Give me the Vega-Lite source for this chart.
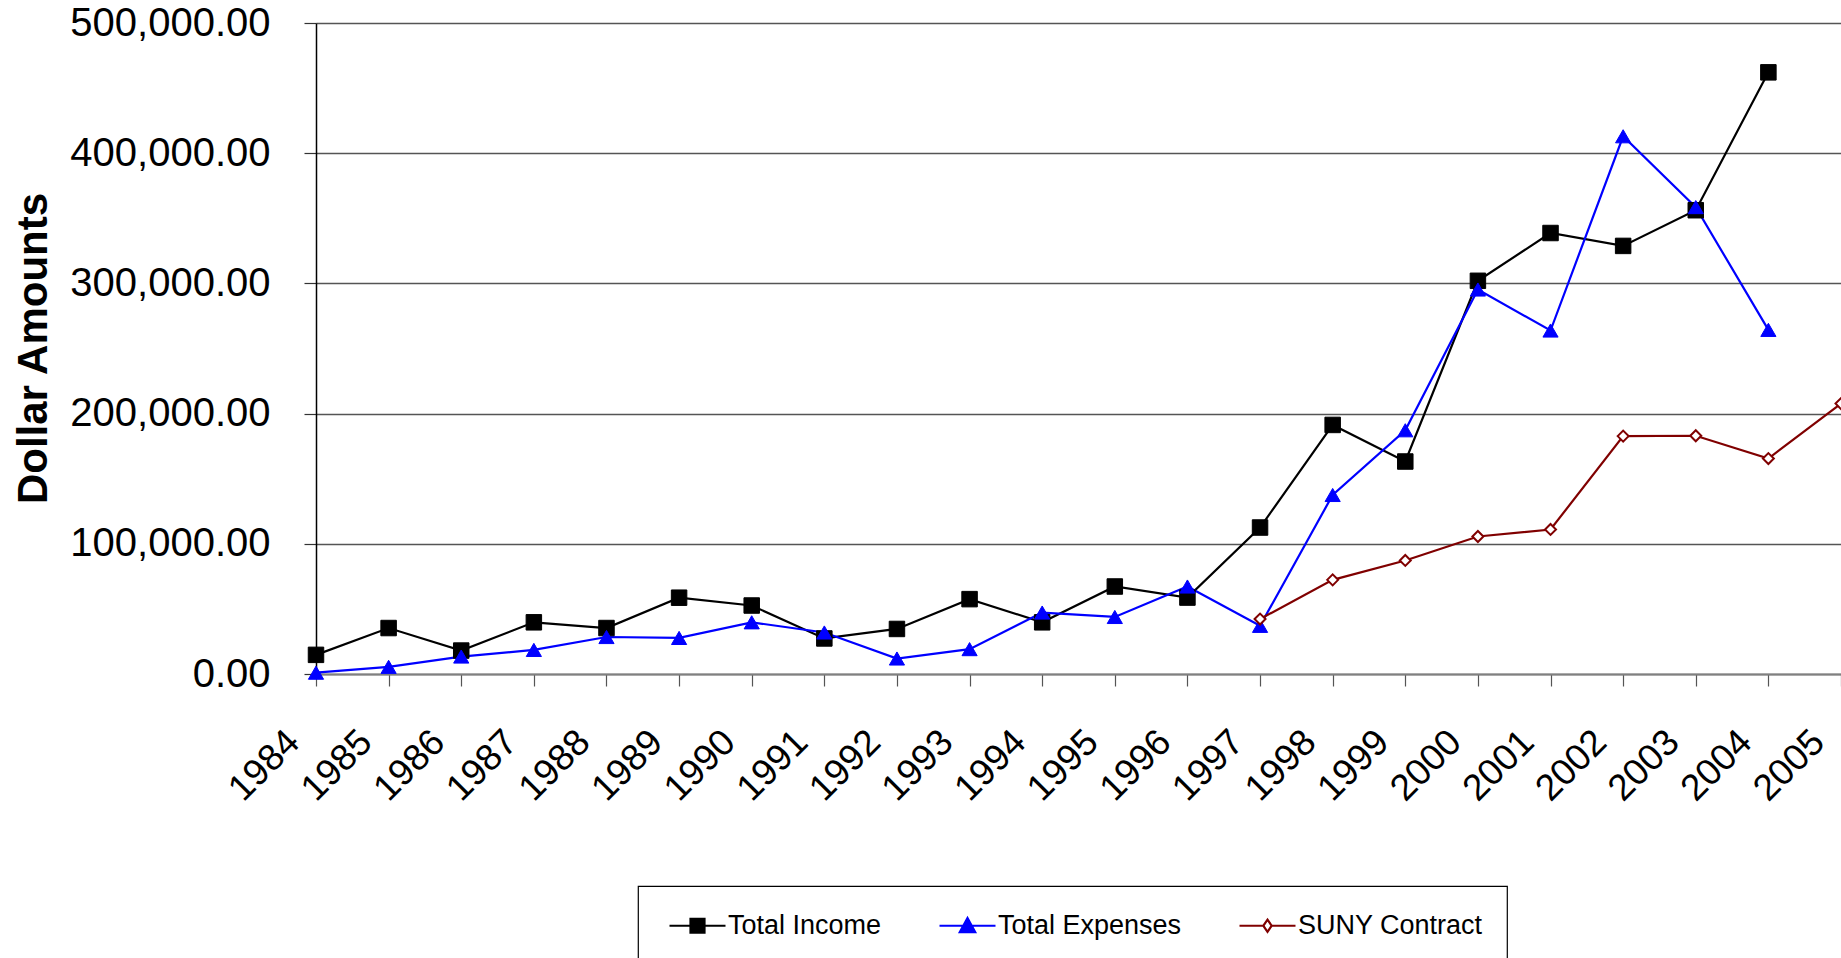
{
  "$schema": "https://vega.github.io/schema/vega-lite/v6.json",
  "autosize": {"type": "none"},
  "padding": {"left": 316, "top": 23, "right": 0, "bottom": 284},
  "width": 1525,
  "height": 651,
  "background": "white",
  "config": {
    "view": {"stroke": null},
    "font": "Liberation Sans"
  },
  "data": {
    "values": [
      {"year": 1984, "series": "Total Income", "value": 14700},
      {"year": 1985, "series": "Total Income", "value": 35300},
      {"year": 1986, "series": "Total Income", "value": 18000},
      {"year": 1987, "series": "Total Income", "value": 39700},
      {"year": 1988, "series": "Total Income", "value": 35300},
      {"year": 1989, "series": "Total Income", "value": 58600},
      {"year": 1990, "series": "Total Income", "value": 52600},
      {"year": 1991, "series": "Total Income", "value": 27300},
      {"year": 1992, "series": "Total Income", "value": 34600},
      {"year": 1993, "series": "Total Income", "value": 57500},
      {"year": 1994, "series": "Total Income", "value": 39700},
      {"year": 1995, "series": "Total Income", "value": 67200},
      {"year": 1996, "series": "Total Income", "value": 58700},
      {"year": 1997, "series": "Total Income", "value": 112500},
      {"year": 1998, "series": "Total Income", "value": 191300},
      {"year": 1999, "series": "Total Income", "value": 163200},
      {"year": 2000, "series": "Total Income", "value": 302000},
      {"year": 2001, "series": "Total Income", "value": 338700},
      {"year": 2002, "series": "Total Income", "value": 328800},
      {"year": 2003, "series": "Total Income", "value": 356200},
      {"year": 2004, "series": "Total Income", "value": 462100},
      {"year": 1984, "series": "Total Expenses", "value": 1000},
      {"year": 1985, "series": "Total Expenses", "value": 5500},
      {"year": 1986, "series": "Total Expenses", "value": 13400},
      {"year": 1987, "series": "Total Expenses", "value": 18500},
      {"year": 1988, "series": "Total Expenses", "value": 28400},
      {"year": 1989, "series": "Total Expenses", "value": 27700},
      {"year": 1990, "series": "Total Expenses", "value": 39700},
      {"year": 1991, "series": "Total Expenses", "value": 31900},
      {"year": 1992, "series": "Total Expenses", "value": 11900},
      {"year": 1993, "series": "Total Expenses", "value": 19100},
      {"year": 1994, "series": "Total Expenses", "value": 47200},
      {"year": 1995, "series": "Total Expenses", "value": 43800},
      {"year": 1996, "series": "Total Expenses", "value": 67200},
      {"year": 1997, "series": "Total Expenses", "value": 37000},
      {"year": 1998, "series": "Total Expenses", "value": 137500},
      {"year": 1999, "series": "Total Expenses", "value": 187200},
      {"year": 2000, "series": "Total Expenses", "value": 295300},
      {"year": 2001, "series": "Total Expenses", "value": 263800},
      {"year": 2002, "series": "Total Expenses", "value": 413000},
      {"year": 2003, "series": "Total Expenses", "value": 358600},
      {"year": 2004, "series": "Total Expenses", "value": 264300},
      {"year": 1997, "series": "SUNY Contract", "value": 42200},
      {"year": 1998, "series": "SUNY Contract", "value": 72300},
      {"year": 1999, "series": "SUNY Contract", "value": 87200},
      {"year": 2000, "series": "SUNY Contract", "value": 105600},
      {"year": 2001, "series": "SUNY Contract", "value": 111000},
      {"year": 2002, "series": "SUNY Contract", "value": 182700},
      {"year": 2003, "series": "SUNY Contract", "value": 183000},
      {"year": 2004, "series": "SUNY Contract", "value": 165500},
      {"year": 2005, "series": "SUNY Contract", "value": 207700}
    ]
  },
  "encoding": {
    "x": {
      "field": "year",
      "type": "quantitative",
      "scale": {"domain": [1984, 2005], "nice": false, "zero": false},
      "axis": {
        "title": null,
        "values": [1984,1985,1986,1987,1988,1989,1990,1991,1992,1993,1994,1995,1996,1997,1998,1999,2000,2001,2002,2003,2004,2005],
        "format": "d",
        "grid": false,
        "domainColor": "#808080",
        "domainWidth": 2,
        "tickColor": "#555555",
        "tickWidth": 1.2,
        "tickSize": 12,
        "labelAngle": -45,
        "labelAlign": "right",
        "labelBaseline": "alphabetic",
        "labelPadding": 58,
        "labelOffset": -15,
        "labelFontSize": 37,
        "labelColor": "black",
        "labelFont": "Liberation Sans",
        "labelLimit": 400,
        "labelOverlap": false,
        "labelFlush": false,
        "labelBound": false
      }
    },
    "y": {
      "field": "value",
      "type": "quantitative",
      "scale": {"domain": [0, 500000], "nice": false},
      "axis": {
        "title": "Dollar Amounts",
        "titleFont": "Liberation Sans",
        "titleFontSize": 42,
        "titleFontWeight": "bold",
        "titleColor": "black",
        "titleAngle": -90,
        "titleAlign": "center",
        "titleBaseline": "alphabetic",
        "titleX": -270,
        "titleY": 325,
        "titleLimit": 800,
        "values": [0, 100000, 200000, 300000, 400000, 500000],
        "format": ",.2f",
        "grid": true,
        "gridColor": "#555555",
        "gridWidth": 1.3,
        "domainColor": "black",
        "domainWidth": 1.5,
        "tickColor": "#333333",
        "tickSize": 12,
        "tickWidth": 1.2,
        "labelPadding": 34,
        "labelFontSize": 40,
        "labelColor": "black",
        "labelFont": "Liberation Sans",
        "labelLimit": 400
      }
    }
  },
  "layer": [
    {
      "mark": {"type": "line", "strokeWidth": 2.2},
      "encoding": {
        "color": {
          "field": "series",
          "type": "nominal",
          "scale": {
            "domain": ["Total Income", "Total Expenses", "SUNY Contract"],
            "range": ["#000000", "#0000ff", "#800000"]
          },
          "legend": {
            "title": null,
            "orient": "none",
            "direction": "horizontal",
            "legendX": 322,
            "legendY": 863,
            "padding": 24,
            "symbolOffset": 6,
            "strokeColor": "black",
            "fillColor": "white",
            "symbolSize": 784,
            "symbolStrokeWidth": 2.2,
            "labelOffset": 29,
            "columnPadding": 50,
            "labelFontSize": 27,
            "labelFont": "Liberation Sans",
            "labelColor": "black",
            "labelLimit": 500,
            "encode": {
              "legend": {
                "update": {
                  "strokeWidth": {"value": 1.2}
                }
              },
              "symbols": {
                "update": {
                  "shape": {"signal": "datum.value === 'Total Income' ? 'M-1,0H3M0.5,-0.5H1.5V0.5H0.5Z' : datum.value === 'Total Expenses' ? 'M-1,0H3M1,-0.55L1.55,0.45H0.45Z' : 'M-1,0H0.7M1.3,0H3M1,-0.43L1.3,0L1,0.43L0.7,0Z'"},
                  "fill": {"signal": "datum.value === 'Total Income' ? '#000000' : datum.value === 'Total Expenses' ? '#0000ff' : '#ffffff'"},
                  "fillOpacity": {"value": 1},
                  "strokeWidth": {"value": 2.2}
                }
              }
            }
          }
        }
      }
    },
    {
      "transform": [{"filter": "datum.series === 'Total Income'"}],
      "mark": {"type": "point", "shape": "square", "size": 240, "filled": true, "fill": "#000000", "stroke": "#000000", "strokeWidth": 1, "opacity": 1}
    },
    {
      "transform": [{"filter": "datum.series === 'Total Expenses'"}],
      "mark": {"type": "point", "shape": "triangle-up", "size": 230, "filled": true, "fill": "#0000ff", "stroke": "#0000ff", "strokeWidth": 1, "opacity": 1}
    },
    {
      "transform": [{"filter": "datum.series === 'SUNY Contract'"}],
      "mark": {"type": "point", "shape": "diamond", "size": 120, "filled": false, "fill": "#ffffff", "fillOpacity": 1, "stroke": "#800000", "strokeWidth": 2, "opacity": 1}
    }
  ]
}
